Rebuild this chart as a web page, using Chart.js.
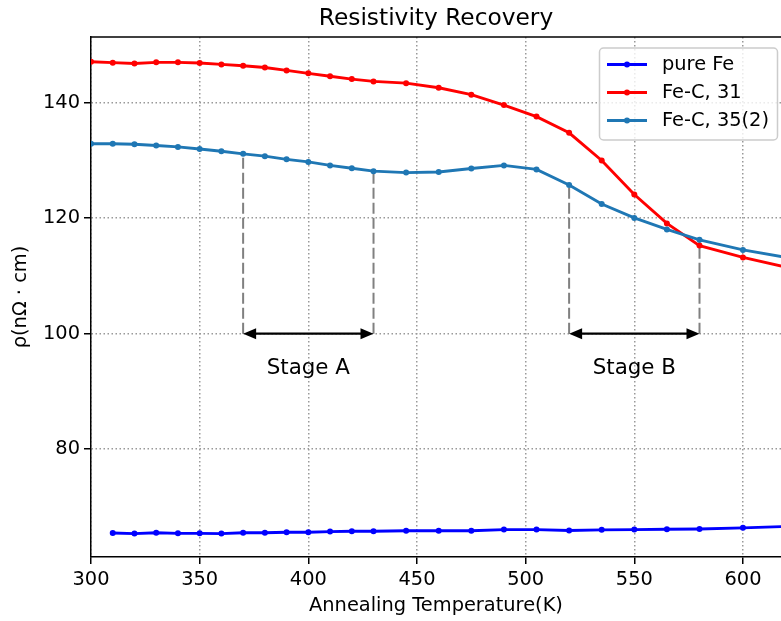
<!DOCTYPE html>
<html>
<head>
<meta charset="utf-8">
<title>Resistivity Recovery</title>
<script src="https://cdn.jsdelivr.net/npm/chart.js@4/dist/chart.umd.min.js"></script>
<style>
    html, body { margin: 0; padding: 0; background: #fff; }
    canvas { display: block; }
</style>
</head>
<body>
<canvas id="resistividad" width="781" height="621"></canvas>
<script>
//temperaturas de recocido (K)
const temperaturas = [300, 310, 320, 330, 340, 350, 360, 370, 380, 390, 400, 410, 420, 430, 445, 460, 475, 490, 505, 520, 535, 550, 565, 580, 600, 620];
//resistividad de cada muestra (nOhm cm)
const pureFe = [null, 65.45, 65.35, 65.5, 65.4, 65.4, 65.35, 65.5, 65.5, 65.6, 65.6, 65.7, 65.75, 65.75, 65.85, 65.85, 65.85, 66.05, 66.05, 65.9, 66.0, 66.05, 66.1, 66.15, 66.35, 66.6];
const feC31 = [147.1, 146.95, 146.8, 147.0, 147.0, 146.9, 146.65, 146.4, 146.1, 145.6, 145.1, 144.6, 144.1, 143.7, 143.4, 142.6, 141.4, 139.6, 137.6, 134.8, 130.0, 124.1, 119.1, 115.25, 113.2, 111.5];
const feC35 = [132.9, 132.9, 132.8, 132.6, 132.35, 132.0, 131.6, 131.15, 130.75, 130.2, 129.75, 129.15, 128.65, 128.15, 127.9, 128.0, 128.6, 129.15, 128.45, 125.75, 122.45, 120.05, 118.05, 116.25, 114.5, 113.2];
//ticks de los ejes
const ticksX = [300, 350, 400, 450, 500, 550, 600];
const ticksY = [80, 100, 120, 140];
//etapas de recuperacion
const etapaInicio = [370, 520];
const etapaFin = [430, 580];
const etapaNombre = ["Stage A", "Stage B"];
const nivelFlecha = 100;
const nivelTexto = 93.9;

const fuente = "DejaVu Sans";
const puntos = (serie) => temperaturas.map((t, i) => ({ x: t, y: serie[i] }));

//flechas, lineas de etapa, borde superior y leyenda
const anotaciones = {
    id: "anotaciones",
    beforeDatasetsDraw(chart) {
        const { ctx, chartArea, scales } = chart;
        ctx.save();
        ctx.beginPath();
        ctx.rect(chartArea.left, chartArea.top, chartArea.right - chartArea.left, chartArea.bottom - chartArea.top);
        ctx.clip();
        ctx.strokeStyle = "#808080";
        ctx.lineWidth = 2;
        ctx.setLineDash([11, 4]);
        etapaInicio.concat(etapaFin).forEach((t) => {
            const px = scales.x.getPixelForValue(t);
            const v = feC35[temperaturas.indexOf(t)];
            ctx.beginPath();
            ctx.moveTo(px, scales.y.getPixelForValue(nivelFlecha));
            ctx.lineTo(px, scales.y.getPixelForValue(v));
            ctx.stroke();
        });
        ctx.restore();
    },
    afterDatasetsDraw(chart) {
        const { ctx, scales } = chart;
        const py = scales.y.getPixelForValue(nivelFlecha);
        ctx.save();
        ctx.strokeStyle = "#000";
        ctx.fillStyle = "#000";
        ctx.lineWidth = 2.2;
        etapaInicio.forEach((t, i) => {
            const x1 = scales.x.getPixelForValue(t);
            const x2 = scales.x.getPixelForValue(etapaFin[i]);
            const largo = 13, ancho = 5.5;
            ctx.beginPath();
            ctx.moveTo(x1 + largo / 2, py);
            ctx.lineTo(x2 - largo / 2, py);
            ctx.stroke();
            [[x1, 1], [x2, -1]].forEach(([px, d]) => {
                ctx.beginPath();
                ctx.moveTo(px, py);
                ctx.lineTo(px + d * largo, py - ancho);
                ctx.lineTo(px + d * largo, py + ancho);
                ctx.closePath();
                ctx.fill();
            });
            ctx.font = "21.4px '" + fuente + "'";
            ctx.textAlign = "center";
            ctx.textBaseline = "middle";
            ctx.fillText(etapaNombre[i], scales.x.getPixelForValue((t + etapaFin[i]) / 2), scales.y.getPixelForValue(nivelTexto));
        });
        ctx.restore();
    },
    afterDraw(chart) {
        const { ctx, chartArea } = chart;
        ctx.save();
        //borde superior
        ctx.strokeStyle = "#000";
        ctx.lineWidth = 1.5;
        ctx.beginPath();
        ctx.moveTo(chartArea.left, chartArea.top);
        ctx.lineTo(chartArea.right, chartArea.top);
        ctx.stroke();
        //leyenda
        const caja = { x: 599.5, y: 48, w: 178, h: 92, r: 4 };
        ctx.beginPath();
        ctx.roundRect(caja.x, caja.y, caja.w, caja.h, caja.r);
        ctx.fillStyle = "rgba(255,255,255,0.8)";
        ctx.fill();
        ctx.strokeStyle = "#cccccc";
        ctx.lineWidth = 1.5;
        ctx.stroke();
        ctx.font = "19.4px '" + fuente + "'";
        ctx.textBaseline = "middle";
        ctx.textAlign = "left";
        chart.data.datasets.forEach((ds, i) => {
            const fy = 64.5 + i * 28;
            ctx.strokeStyle = ds.borderColor;
            ctx.fillStyle = ds.borderColor;
            ctx.lineWidth = ds.borderWidth;
            ctx.beginPath();
            ctx.moveTo(607, fy);
            ctx.lineTo(647, fy);
            ctx.stroke();
            ctx.beginPath();
            ctx.arc(627, fy, ds.pointRadius, 0, Math.PI * 2);
            ctx.fill();
            ctx.fillStyle = "#000";
            ctx.fillText(ds.label, 662, fy);
        });
        ctx.restore();
    },
};

const serie = (label, data, color, orden) => ({
    label: label,
    data: puntos(data),
    borderColor: color,
    backgroundColor: color,
    borderWidth: 2.9,
    pointRadius: 3,
    pointBorderWidth: 0,
    pointHoverRadius: 3,
    tension: 0,
    clip: 0,
    order: orden,
});

new Chart(document.getElementById("resistividad"), {
    type: "line",
    data: {
        datasets: [
            serie("pure Fe", pureFe, "#0000ff", 2),
            serie("Fe-C, 31", feC31, "#ff0000", 1),
            serie("Fe-C, 35(2)", feC35, "#1f77b4", 0),
        ],
    },
    options: {
        responsive: false,
        animation: false,
        events: [],
        layout: { padding: 0, autoPadding: false },
        plugins: {
            legend: { display: false },
            tooltip: { enabled: false },
            title: {
                display: true,
                text: "Resistivity Recovery",
                fullSize: false,
                color: "#000",
                font: { family: fuente, size: 23.3, weight: "normal" },
                padding: { top: 5, bottom: 4 },
            },
        },
        scales: {
            x: {
                type: "linear",
                min: 300,
                max: 617.5,
                afterBuildTicks: (s) => { s.ticks = ticksX.map((v) => ({ value: v })); },
                afterFit: (s) => { s.height = 64; },
                ticks: { color: "#000", font: { family: fuente, size: 19.4 }, padding: 4, maxRotation: 0 },
                grid: { color: "#999", lineWidth: 1.5, tickColor: "#000", tickWidth: 1.5, tickLength: 7, tickBorderDash: [] },
                border: { color: "#000", width: 1.5, dash: [1.5, 2.5] },
                title: { display: true, text: "Annealing Temperature(K)", color: "#000", font: { family: fuente, size: 19.4 }, padding: { top: 0, bottom: 3.3 } },
            },
            y: {
                min: 61.3,
                max: 151.4,
                afterBuildTicks: (s) => { s.ticks = ticksY.map((v) => ({ value: v })); },
                afterFit: (s) => { s.width = 91; },
                ticks: { color: "#000", font: { family: fuente, size: 19.4 }, padding: 4 },
                grid: { color: "#999", lineWidth: 1.5, tickColor: "#000", tickWidth: 1.5, tickLength: 7, tickBorderDash: [] },
                border: { color: "#000", width: 1.5, dash: [1.5, 2.5] },
                title: { display: true, text: "ρ(nΩ · cm)", color: "#000", font: { family: fuente, size: 19.4 }, padding: { top: 9.3, bottom: 0 } },
            },
        },
    },
    plugins: [anotaciones],
});
</script>
</body>
</html>
